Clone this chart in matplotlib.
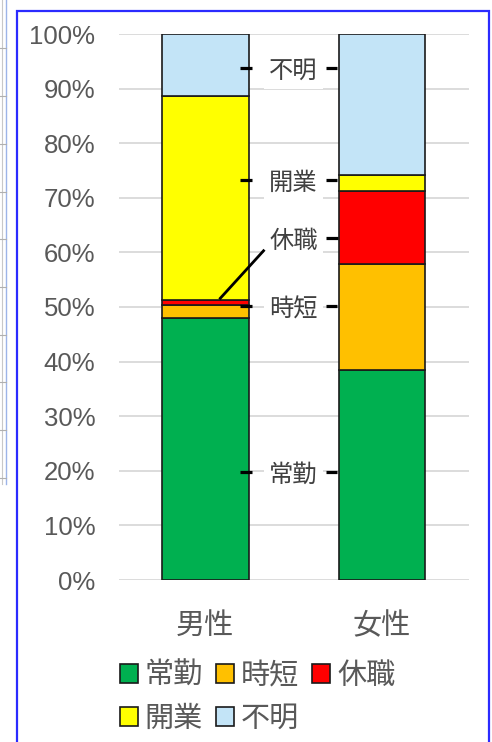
import matplotlib
matplotlib.use("Agg")
import matplotlib.pyplot as plt
from matplotlib.lines import Line2D
from matplotlib.patches import Rectangle

plt.rcParams['font.family'] = ['Liberation Sans', 'Noto Sans CJK JP', 'DejaVu Sans']

# data (percent)
groups = ['男性', '女性']
series = ['常勤', '時短', '休職', '開業', '不明']
jokin = [47.9, 38.5]
jitan = [2.5, 19.3]
kyushoku = [0.8, 13.5]
kaigyo = [37.4, 2.8]
fumei = [11.4, 25.9]
colors = ['#00b050', '#ffc000', '#ff0000', '#ffff00', '#c3e4f7']

# in-between labels: label text and height (%)
mid_labels = ['不明', '開業', '休職', '時短', '常勤']
mid_y = [93.8, 73.3, 62.6, 50.1, 19.8]

W, H = 492, 742
fig = plt.figure(figsize=(W / 100, H / 100), dpi=100)
fig.patch.set_facecolor('white')

# frame of the chart object
fig.add_artist(Rectangle((17 / W, -0.01), (489 - 17) / W, 1 - 11 / H + 0.01,
                         transform=fig.transFigure, fill=False,
                         edgecolor='#2b2bff', lw=1.6))
# sheet fragments on the left
fig.add_artist(Line2D([6 / W, 6 / W], [1, 1 - 484 / H], transform=fig.transFigure,
                      color='#9db4e8', lw=1.0))
fig.add_artist(Line2D([1.5 / W, 1.5 / W], [1, 1 - 484 / H], transform=fig.transFigure,
                      color='#c8c8c8', lw=0.8))
for yy in [48, 96, 144, 192, 239, 287, 335, 382, 430, 478]:
    fig.add_artist(Line2D([0, 6 / W], [1 - yy / H, 1 - yy / H], transform=fig.transFigure,
                          color='#b0b0b0', lw=0.8))

ax = fig.add_axes([119 / W, 1 - 580 / H, (469 - 119) / W, (580 - 34) / H])
ax.set_facecolor('white')

x = [0, 1]
bw = 0.49
bottom = [0, 0]
handles = []
for name, vals, c in zip(series, [jokin, jitan, kyushoku, kaigyo, fumei], colors):
    b = ax.bar(x, vals, bw, bottom=bottom, color=c, edgecolor='#1a1a1a',
               linewidth=1.2, label=name, zorder=3)
    handles.append(b)
    bottom = [bottom[i] + vals[i] for i in range(2)]

ax.set_ylim(0, 100)
ax.set_xlim(-0.489, 1.494)
ax.set_yticks(range(0, 101, 10))
ax.set_yticklabels([f'{v}%' for v in range(0, 101, 10)], fontsize=18.5, color='#595959')
ax.set_xticks(x)
ax.set_xticklabels(groups, fontsize=21, color='#595959')
ax.tick_params(axis='y', length=0, pad=17)
ax.tick_params(axis='x', length=0, pad=23)
ax.yaxis.grid(True, color='#d9d9d9', lw=1.3, zorder=0)
ax.set_axisbelow(True)
for s in ax.spines.values():
    s.set_visible(False)

# labels between the bars
for lab, yv in zip(mid_labels, mid_y):
    ax.text(0.5, yv, lab, ha='center', va='center_baseline', fontsize=17.5,
            color='#404040', family=['Noto Sans CJK JP'], zorder=4,
            bbox=dict(boxstyle='square,pad=0.2', fc='white', ec='none'))
    if lab != '休職':
        ax.plot([0.195, 0.262], [yv, yv], color='black', lw=2.3, zorder=5,
                solid_capstyle='butt')
    ax.plot([0.686, 0.75 if lab == '休職' else 0.745], [yv, yv], color='black', lw=2.3,
            zorder=5, solid_capstyle='butt')
# leader line to the thin 休職 segment of 男性
ax.plot([0.33, 0.085], [60.3, 51.6], color='black', lw=2.0, zorder=5)

order = [0, 3, 1, 4, 2]
leg = fig.legend([handles[i] for i in order], [series[i] for i in order],
                 ncol=3, loc='upper left', bbox_to_anchor=(120 / W, 1 - 662 / H),
                 frameon=False, fontsize=21, handlelength=0.6, handleheight=0.6,
                 handletextpad=0.25, columnspacing=0.45, labelspacing=0.5,
                 borderaxespad=0, borderpad=0)
for t in leg.get_texts():
    t.set_color('#595959')

fig.savefig('out.png', dpi=100)
